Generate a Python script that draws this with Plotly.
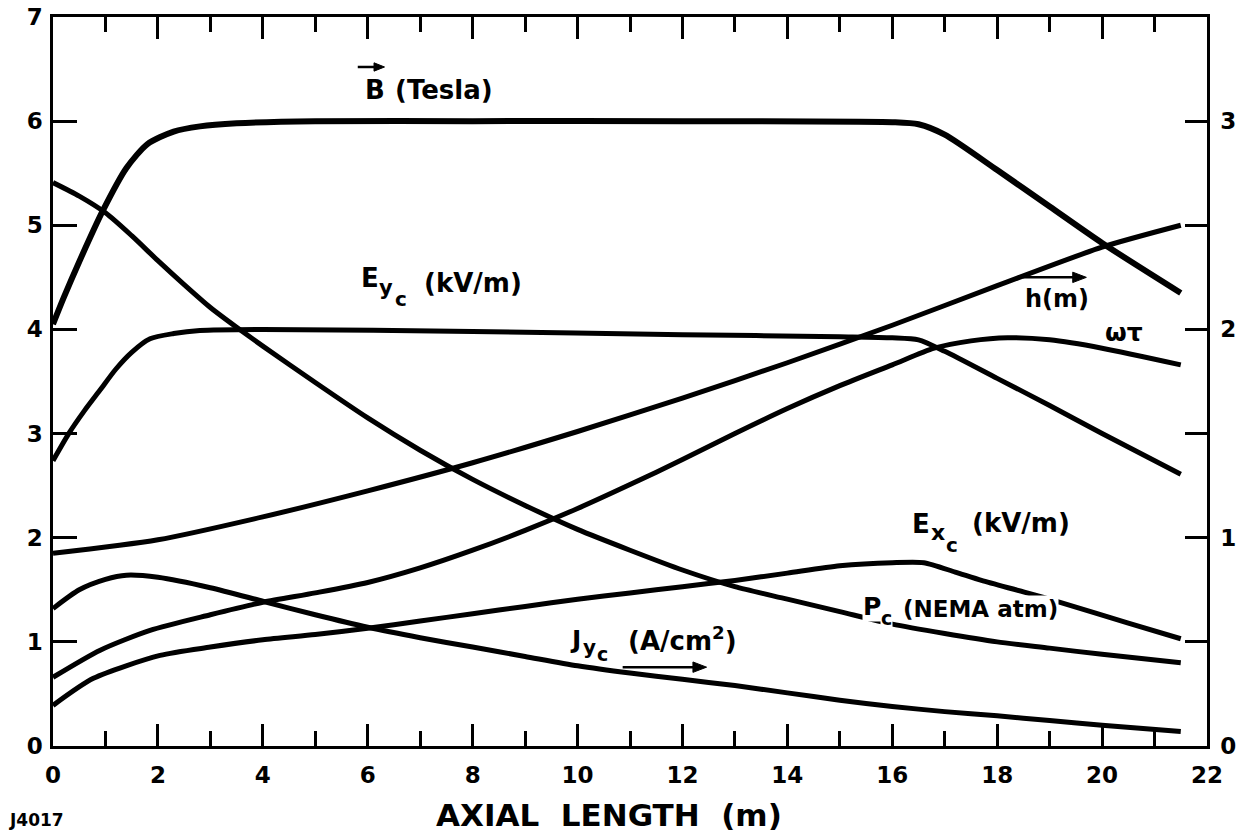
import plotly.graph_objects as go

# ---- curve data (axial length in m) ----
b_x = [0, 0.2, 0.5, 0.95, 1.4, 1.8, 2.3, 2.8, 3.5, 5, 8, 12, 16, 16.5, 17, 18, 19, 20, 21.5]
b_tesla = [4.05, 4.3, 4.65, 5.14, 5.55, 5.78, 5.9, 5.95, 5.98, 6.0, 6.0, 6.0, 5.99, 5.97, 5.87, 5.53, 5.18, 4.83, 4.35]

ey_x = [0, 0.3, 0.6, 0.9, 1.2, 1.5, 1.85, 2.3, 2.8, 4, 8, 12, 15, 16, 16.5, 17, 18, 19, 20, 21.5]
ey_kvm = [2.74, 3.0, 3.22, 3.42, 3.62, 3.78, 3.91, 3.96, 3.99, 4.0, 3.98, 3.95, 3.93, 3.92, 3.9, 3.79, 3.53, 3.27, 3.0, 2.61]

pc_x = [0, 0.5, 1, 1.5, 2, 2.5, 3, 3.5, 4, 5, 6, 7, 8, 9, 10, 11, 12, 13, 14, 15, 16, 17, 18, 19, 20, 21.5]
pc_atm = [5.41, 5.28, 5.12, 4.9, 4.66, 4.43, 4.21, 4.02, 3.84, 3.49, 3.15, 2.84, 2.56, 2.31, 2.08, 1.88, 1.69, 1.53, 1.41, 1.29, 1.17, 1.08, 1.0, 0.94, 0.88, 0.8]

wt_x = [0, 0.9, 1.85, 3, 4, 5, 6, 7, 8, 9, 10, 11, 12, 13, 14, 15, 16, 16.8, 17.5, 18.2, 19, 20, 21.5]
omega_tau = [0.66, 0.92, 1.11, 1.26, 1.38, 1.47, 1.57, 1.71, 1.88, 2.07, 2.28, 2.51, 2.75, 3.0, 3.24, 3.46, 3.66, 3.82, 3.89, 3.92, 3.9, 3.82, 3.66]

ex_x = [0, 0.77, 2.04, 3, 4, 5, 6, 7, 8, 9, 10, 11, 12, 13, 14, 15, 16, 16.6, 17.2, 17.7, 18.5, 19.2, 20.5, 21.5]
ex_kvm = [0.39, 0.65, 0.87, 0.95, 1.02, 1.07, 1.13, 1.2, 1.27, 1.34, 1.41, 1.47, 1.53, 1.59, 1.66, 1.73, 1.76, 1.76, 1.67, 1.59, 1.48, 1.38, 1.18, 1.03]

# right-hand scale quantities
jy_x = [0, 0.5, 1.0, 1.4, 2, 3, 4, 5, 6, 7, 8, 9, 10, 11, 12, 13, 14, 15, 16, 17, 18, 19, 20, 21.5]
jy_acm2 = [0.66, 0.75, 0.8, 0.82, 0.81, 0.76, 0.695, 0.63, 0.57, 0.52, 0.475, 0.43, 0.385, 0.35, 0.32, 0.29, 0.255, 0.22, 0.19, 0.165, 0.145, 0.122, 0.1, 0.07]

h_x = [0, 2, 4, 6, 8, 10, 12, 14, 16, 18, 20, 21.5]
h_m = [0.925, 0.99, 1.1, 1.225, 1.36, 1.51, 1.67, 1.84, 2.02, 2.21, 2.395, 2.5]

x_ticks = list(range(0, 23, 2))
left_ticks = list(range(0, 8))
right_ticks = [0, 1, 2, 3]

FONT = "DejaVu Sans"

fig = go.Figure()


def add_curve(x, y, axis="y", width=5):
    fig.add_trace(go.Scatter(
        x=x, y=y, mode="lines", yaxis=axis,
        line=dict(color="black", width=width, shape="spline", smoothing=0.7),
        hoverinfo="skip", showlegend=False,
    ))


add_curve(b_x, b_tesla, width=6)
add_curve(ey_x, ey_kvm)
add_curve(pc_x, pc_atm)
add_curve(wt_x, omega_tau)
add_curve(ex_x, ex_kvm)
add_curve(jy_x, jy_acm2, "y2")
add_curve(h_x, h_m, "y2")


def label(text, x, y, size=26, bg=None, xref="x", yref="y"):
    return dict(text=text, x=x, y=y, xref=xref, yref=yref, showarrow=False,
                font=dict(family=FONT, size=size, color="black", weight="bold"),
                bgcolor=bg, xanchor="center", yanchor="middle", borderpad=0)


def arrow_shapes(x0, x1, y, head_len=0.26, head_half=0.05):
    """Straight pointer to the right: a shaft plus a filled head (data coords)."""
    shaft = dict(type="line", xref="x", yref="y", x0=x0, x1=x1 - head_len * 0.5, y0=y, y1=y,
                 line=dict(color="black", width=2.5))
    head = dict(type="path", xref="x", yref="y",
                path=f"M {x1 - head_len},{y - head_half} L {x1},{y} L {x1 - head_len},{y + head_half} Z",
                fillcolor="black", line=dict(color="black", width=1))
    return [shaft, head]


annotations = [
    # B (Tesla)
    label("B", 6.13, 6.30),
    label("(Tesla)", 7.45, 6.30),
    # E_yc (kV/m)
    label("E", 6.04, 4.49),
    label("y", 6.34, 4.40, size=21),
    label("c", 6.63, 4.29, size=20),
    label("(kV/m)", 8.0, 4.45),
    # h(m)
    label("h(m)", 19.14, 4.29, size=24),
    # omega tau
    label("ωτ", 20.42, 3.97, size=25),
    # E_xc (kV/m)
    label("E", 16.55, 2.13),
    label("x", 16.88, 2.05, size=22),
    label("c", 17.13, 1.93, size=20),
    label("(kV/m)", 18.45, 2.14),
    # P_c (NEMA atm)
    label("P", 15.62, 1.34, size=25, bg="white"),
    label("c", 15.89, 1.23, size=19, bg="white"),
    label("(NEMA atm)", 17.68, 1.32, size=23, bg="white"),
    # J_yc (A/cm^2)
    label("J", 9.96, 1.02, size=25),
    label("y", 10.23, 0.95, size=20),
    label("c", 10.48, 0.88, size=19),
    label("(A/cm<sup>2</sup>)", 12.0, 1.03, size=26),
    # axis title and figure code
    label("AXIAL  LENGTH  (m)", 0.4818, -0.094, size=31, xref="paper", yref="paper"),
    label("J4017", -0.014, -0.101, size=17, xref="paper", yref="paper"),
]

shapes = []
shapes += arrow_shapes(5.81, 6.32, 6.52, head_len=0.2, head_half=0.04)   # vector mark over B
shapes += arrow_shapes(18.48, 19.70, 4.50)                               # h(m) pointer
shapes += arrow_shapes(10.86, 12.46, 0.757)                              # J pointer

axis_common = dict(
    showline=True, linecolor="black", linewidth=2.5,
    showgrid=False, zeroline=False, automargin=False,
    tickcolor="black", tickwidth=2.5,
    tickfont=dict(family=FONT, size=23, color="black", weight="bold"),
)

fig.update_layout(
    width=1239, height=834,
    margin=dict(l=53, r=32, t=17, b=88),
    paper_bgcolor="white", plot_bgcolor="white",
    xaxis=dict(
        range=[0, 22], tickvals=x_ticks, ticks="inside", ticklen=22,
        mirror="ticks", ticklabelstandoff=7,
        minor=dict(dtick=1, ticks="inside", ticklen=15, tickwidth=2.5, tickcolor="black", showgrid=False),
        **axis_common,
    ),
    yaxis=dict(
        range=[0, 7], tickvals=left_ticks, ticks="inside", ticklen=24,
        ticklabelstandoff=3,
        **axis_common,
    ),
    yaxis2=dict(
        range=[0, 3.5], overlaying="y", side="right",
        tickvals=right_ticks, ticks="inside", ticklen=22,
        ticklabelstandoff=6,
        minor=dict(dtick=0.5, ticks="inside", ticklen=22, tickwidth=2.5, tickcolor="black", showgrid=False),
        **axis_common,
    ),
    annotations=annotations,
    shapes=shapes,
)

fig.write_html("out.html")
